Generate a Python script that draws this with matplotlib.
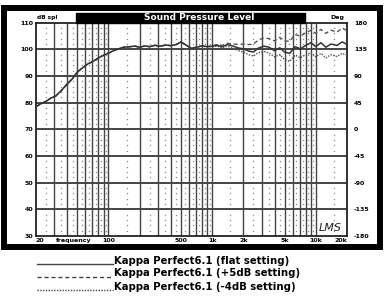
import matplotlib
matplotlib.use("Agg")
import matplotlib.pyplot as plt
import numpy as np
from matplotlib.patches import Rectangle
from matplotlib.lines import Line2D

W, H = 384, 298

freqs = [20, 22, 25, 28, 31, 35, 40, 45, 50, 56, 63, 71, 80, 90, 100, 112, 125,
         140, 160, 180, 200, 224, 250, 280, 315, 355, 400, 450, 500, 560, 630,
         710, 800, 900, 1000, 1120, 1250, 1400, 1600, 1800, 2000, 2240, 2500,
         2800, 3150, 3550, 4000, 4500, 5000, 5600, 6300, 7100, 8000, 9000,
         10000, 11200, 12500, 14000, 16000, 18000, 20000]

spl_flat = [78.5, 79.5, 80.5, 81.8, 82.5, 84.5, 87.0, 89.0, 91.5, 93.0, 94.5,
            95.5, 96.8, 97.8, 98.6, 99.5, 100.2, 100.8, 101.0, 101.2, 100.8,
            101.3, 101.0, 101.5, 101.2, 101.6, 101.4, 101.8, 102.8, 101.6,
            100.4, 100.8, 101.3, 101.0, 101.2, 101.5, 101.0, 101.8, 101.2,
            100.5, 100.2, 99.4, 99.0, 100.5, 101.2, 100.8, 99.5, 100.6, 99.0,
            98.5, 101.0, 100.2, 101.5, 102.5, 101.0, 102.5, 100.8, 102.0,
            101.5, 102.8, 101.8]

spl_plus5 = [78.5, 79.5, 80.5, 81.8, 82.5, 84.5, 87.0, 89.0, 91.5, 93.0, 94.5,
             95.5, 96.8, 97.8, 98.6, 99.5, 100.2, 100.8, 101.0, 101.2, 100.8,
             101.3, 101.0, 101.5, 101.2, 101.6, 101.4, 101.8, 102.8, 101.6,
             100.4, 100.8, 101.3, 101.0, 101.4, 101.8, 101.5, 102.3, 102.0,
             101.8, 102.0, 101.8, 102.0, 103.5, 104.3, 104.0, 103.2, 104.5,
             103.2, 103.0, 105.5, 105.0, 106.2, 107.2, 106.0, 107.5, 106.0,
             107.2, 106.5, 108.0, 107.0]

spl_minus4 = [78.5, 79.5, 80.5, 81.8, 82.5, 84.5, 87.0, 89.0, 91.5, 93.0, 94.5,
              95.5, 96.8, 97.8, 98.6, 99.5, 100.2, 100.8, 101.0, 101.2, 100.8,
              101.3, 101.0, 101.5, 101.2, 101.6, 101.4, 101.8, 102.8, 101.6,
              100.4, 100.8, 101.3, 101.0, 101.0, 101.2, 100.6, 101.2, 100.4,
              99.5, 99.0, 98.0, 97.5, 98.8, 99.2, 98.6, 97.2, 98.0, 96.2, 95.5,
              97.8, 96.8, 98.0, 98.8, 97.2, 98.5, 96.8, 98.0, 97.3, 98.5, 97.8]

series_names = ["Kappa Perfect6.1 (flat setting)",
                "Kappa Perfect6.1 (+5dB setting)",
                "Kappa Perfect6.1 (-4dB setting)"]

db_ticks = [30, 40, 50, 60, 70, 80, 90, 100, 110]
deg_ticks = [-180, -135, -90, -45, 0, 45, 90, 135, 180]
f_ticks = [20, 100, 500, 1000, 2000, 5000, 10000, 20000]
f_labels = ["20", "100", "500", "1k", "2k", "5k", "10k", "20k"]


def px(x):
    return x / W


def py(y):
    return 1 - y / H


fig = plt.figure(figsize=(W / 100, H / 100), dpi=100)
fig.patch.set_facecolor("white")

ax = fig.add_axes([px(36), py(236), (347 - 36) / W, (236 - 22.7) / H])
ax.set_xscale("log")
ax.set_xlim(20, 20000)
ax.set_ylim(30, 110)

# log grid: solid lines at 1..9 x decade, dotted columns at the half steps
majors = [m * d for d in (10, 100, 1000, 10000) for m in range(1, 10)]
majors = [f for f in majors if 20 < f < 20000]
for f in majors:
    ax.axvline(f, color="#444444", lw=1.0, zorder=1)
for v in db_ticks[1:-1]:
    ax.axhline(v, color="#444444", lw=1.4, zorder=1)

halves = [(m + 0.5) * d for d in (10, 100, 1000, 10000) for m in range(1, 10)]
halves = [f for f in halves if 20 < f < 20000]
dot_y = [v for v in range(32, 110, 2) if v % 10 != 0]
hx, hy = np.meshgrid(halves, dot_y)
ax.plot(hx.ravel(), hy.ravel(), ls="none", marker="s", ms=0.9,
        mew=0, color="#888888", zorder=1)

ax.plot(freqs, spl_minus4, color="#555555", lw=1.0, ls=(0, (1, 1)), zorder=3)
ax.plot(freqs, spl_plus5, color="#555555", lw=1.0, ls=(0, (3, 2)), zorder=3)
ax.plot(freqs, spl_flat, color="#333333", lw=1.1, zorder=4)

for s in ax.spines.values():
    s.set_linewidth(1.3)
    s.set_color("#222222")

ax.set_yticks(db_ticks)
ax.set_yticklabels([str(v) for v in db_ticks], fontsize=4.5, fontweight="bold")
ax.set_xticks(f_ticks)
ax.set_xticklabels(f_labels, fontsize=4.5, fontweight="bold")
ax.xaxis.set_minor_locator(matplotlib.ticker.NullLocator())
ax.tick_params(length=0, pad=2)
ax.tick_params(axis="x", pad=1.5)
xl = ax.get_xticklabels()
xl[0].set_ha("left")
xl[-1].set_ha("right")
ax.text(46, 29.3, "frequency", fontsize=4.5, fontweight="bold",
        ha="center", va="top")

ax2 = ax.twinx()
ax2.set_ylim(-180, 180)
ax2.set_yticks(deg_ticks)
ax2.set_yticklabels([str(v) for v in deg_ticks], fontsize=4.5,
                    fontweight="bold")
ax2.tick_params(length=0, pad=5)
for s in ax2.spines.values():
    s.set_visible(False)

# title bar and axis captions
fig.patches.append(Rectangle((px(76), py(22.7)), (305 - 76) / W, 10 / H,
                             transform=fig.transFigure, color="black"))
fig.text(px(199), py(17.5), "Sound Pressure Level", color="white",
         fontsize=6.5, fontweight="bold", ha="center", va="center")
fig.text(px(37), py(17.5), "dB spl", fontsize=4.2, fontweight="bold",
         ha="left", va="center")
fig.text(px(344), py(17.5), "Deg", fontsize=4.5, fontweight="bold",
         ha="right", va="center")
fig.text(px(330), py(228), "LMS", fontsize=8, style="italic",
         ha="center", va="center", color="#222222")

# outer frame
fig.patches.append(Rectangle((px(4), py(247)), (380 - 4) / W, (247 - 7.5) / H,
                             transform=fig.transFigure, fill=False,
                             lw=4.3, edgecolor="black"))

# legend under the frame
styles = ["-", (0, (3, 2)), (0, (1, 1))]
rows = [264, 277, 290]
for name, st, yy in zip(series_names, styles, rows):
    fig.lines.append(Line2D([px(37), px(113)], [py(yy), py(yy)],
                            transform=fig.transFigure, color="#444444",
                            lw=1.0, ls=st))
    fig.text(px(114), py(yy - 3.5), name, fontsize=7.3, fontweight="bold",
             ha="left", va="center")

fig.savefig("out.png", dpi=100)
